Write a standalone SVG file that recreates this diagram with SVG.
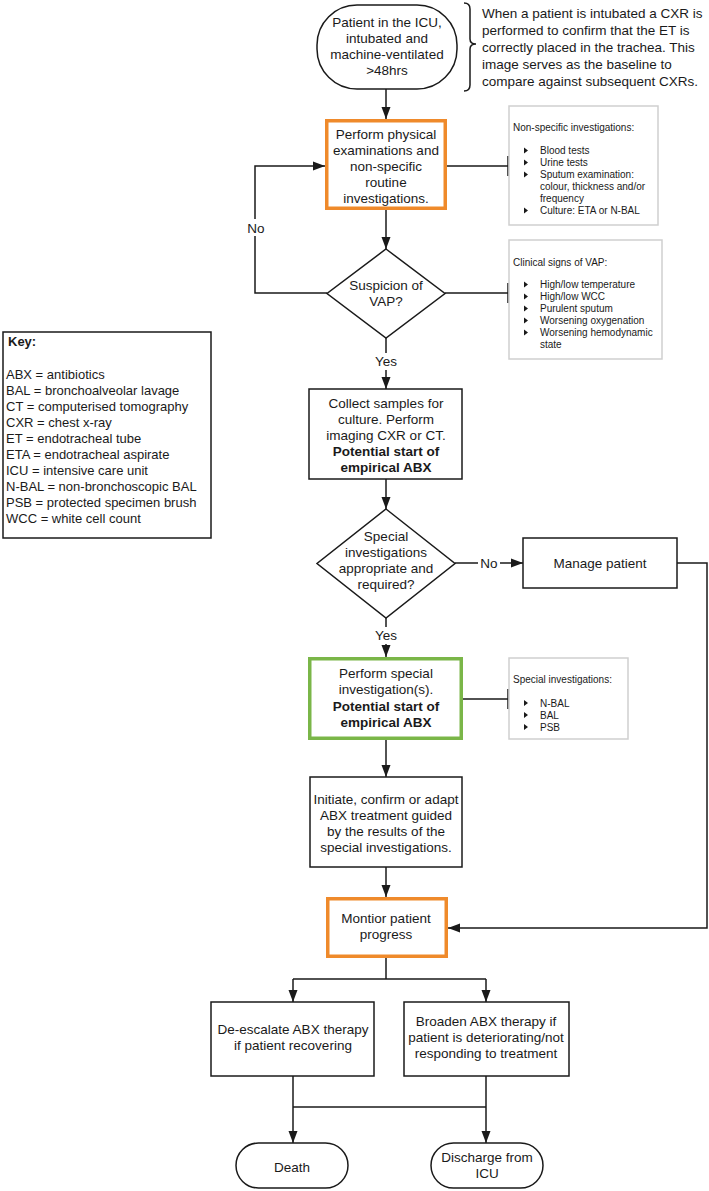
<svg xmlns="http://www.w3.org/2000/svg" width="709" height="1191" viewBox="0 0 709 1191">
<style>
text{font-family:"Liberation Sans",Arial,sans-serif;fill:#1a1a1a}
.m{font-size:13.5px;text-anchor:middle}
.b{font-weight:bold}
.k{font-size:13px}
.n{font-size:13.5px}
.s{font-size:10px}
.box{fill:#fff;stroke:#1a1a1a;stroke-width:1.5}
.or{fill:#fff;stroke:#EF8A2B;stroke-width:3.5}
.gr{fill:#fff;stroke:#7AB648;stroke-width:3.5}
.grey{fill:#fff;stroke:#cfcfcf;stroke-width:1.5}
.c{fill:none;stroke:#1a1a1a;stroke-width:1.5}
.lbl{fill:#fff;stroke:none}
.bul{fill:#1a1a1a}
</style>
<defs>
<marker id="ah" viewBox="0 0 12 10" refX="12" refY="5" markerWidth="12" markerHeight="10" markerUnits="userSpaceOnUse" orient="auto"><path d="M0,0.5 L12,5 L0,9.5 z" fill="#1a1a1a"/></marker>
</defs>
<rect width="709" height="1191" fill="#fff"/>

<g id="connectors">
<path class="c" d="M386,89 V119" marker-end="url(#ah)"/>
<path class="c" d="M386,210 V249" marker-end="url(#ah)"/>
<path class="c" d="M327,293 H255 V166 H325" marker-end="url(#ah)"/>
<path class="c" d="M447,166 H508 M508,156 V176"/>
<path class="c" d="M445,293 H508 M508,283 V303"/>
<path class="c" d="M386,338 V389" marker-end="url(#ah)"/>
<path class="c" d="M386,479 V509" marker-end="url(#ah)"/>
<path class="c" d="M455,563 H523" marker-end="url(#ah)"/>
<path class="c" d="M386,618 V657" marker-end="url(#ah)"/>
<path class="c" d="M463,699 H508 M508,689 V709"/>
<path class="c" d="M386,740 V777" marker-end="url(#ah)"/>
<path class="c" d="M386,867 V897" marker-end="url(#ah)"/>
<path class="c" d="M677,563 H707 V928 H448" marker-end="url(#ah)"/>
<path class="c" d="M386,958 V979 M293,979 H486"/>
<path class="c" d="M293,979 V1002" marker-end="url(#ah)"/>
<path class="c" d="M486,979 V1002" marker-end="url(#ah)"/>
<path class="c" d="M293,1076 V1143" marker-end="url(#ah)"/>
<path class="c" d="M486,1076 V1143" marker-end="url(#ah)"/>
<path class="c" d="M293,1107 H486"/>
<rect class="lbl" x="245" y="219" width="21" height="17"/>
<text class="m" x="256" y="233">No</text>
<rect class="lbl" x="372" y="353" width="28" height="17"/>
<text class="m" x="386" y="366">Yes</text>
<rect class="lbl" x="478" y="555" width="22" height="16"/>
<text class="m" x="489" y="568">No</text>
<rect class="lbl" x="372" y="627" width="28" height="17"/>
<text class="m" x="386" y="640">Yes</text>
</g>

<g id="start">
<rect class="box" x="317" y="5" width="140" height="84" rx="40" ry="40"/>
<text class="m" x="387" y="27">Patient in the ICU,</text>
<text class="m" x="387" y="43">intubated and</text>
<text class="m" x="387" y="59">machine-ventilated</text>
<text class="m" x="387" y="75">&gt;48hrs</text>
</g>

<g id="note">
<path class="c" d="M464,3 Q470,3 470,9 V39 Q470,44 476,44 Q470,44 470,49 V85 Q470,91 464,91"/>
<text class="n" x="482" y="18">When a patient is intubated a CXR is</text>
<text class="n" x="482" y="35">performed to confirm that the ET is</text>
<text class="n" x="482" y="52">correctly placed in the trachea. This</text>
<text class="n" x="482" y="69">image serves as the baseline to</text>
<text class="n" x="482" y="86">compare against subsequent CXRs.</text>
</g>

<g id="physical">
<rect class="or" x="326.75" y="120.75" width="118.5" height="87.5"/>
<text class="m" x="386" y="139">Perform physical</text>
<text class="m" x="386" y="155">examinations and</text>
<text class="m" x="386" y="171">non-specific</text>
<text class="m" x="386" y="187">routine</text>
<text class="m" x="386" y="203">investigations.</text>
</g>

<g id="nonspecific">
<rect class="grey" x="509" y="106" width="149" height="119"/>
<text class="s" x="513" y="130.5">Non-specific investigations:</text>
<path class="bul" d="M524,147.5 L528,150.5 L524,153.5 z M524,159.5 L528,162.5 L524,165.5 z M524,171.5 L528,174.5 L524,177.5 z M524,207.5 L528,210.5 L524,213.5 z"/>
<text class="s" x="540" y="154">Blood tests</text>
<text class="s" x="540" y="166">Urine tests</text>
<text class="s" x="540" y="178">Sputum examination:</text>
<text class="s" x="540" y="190">colour, thickness and/or</text>
<text class="s" x="540" y="202">frequency</text>
<text class="s" x="540" y="214">Culture: ETA or N-BAL</text>
</g>

<g id="suspicion">
<path class="box" d="M386,249 L445,293.5 L386,338 L327,293.5 z"/>
<text class="m" x="386" y="290">Suspicion of</text>
<text class="m" x="386" y="306">VAP?</text>
</g>

<g id="clinical">
<rect class="grey" x="509" y="240" width="153" height="119"/>
<text class="s" x="513" y="265.5">Clinical signs of VAP:</text>
<path class="bul" d="M524,281.5 L528,284.5 L524,287.5 z M524,293.5 L528,296.5 L524,299.5 z M524,305.5 L528,308.5 L524,311.5 z M524,317.5 L528,320.5 L524,323.5 z M524,329.5 L528,332.5 L524,335.5 z"/>
<text class="s" x="540" y="288">High/low temperature</text>
<text class="s" x="540" y="300">High/low WCC</text>
<text class="s" x="540" y="312">Purulent sputum</text>
<text class="s" x="540" y="324">Worsening oxygenation</text>
<text class="s" x="540" y="336">Worsening hemodynamic</text>
<text class="s" x="540" y="348">state</text>
</g>

<g id="key">
<rect class="box" x="3" y="332" width="208" height="206"/>
<text class="k b" x="8" y="346">Key:</text>
<text class="k" x="6" y="379">ABX = antibiotics</text>
<text class="k" x="6" y="395">BAL = bronchoalveolar lavage</text>
<text class="k" x="6" y="411">CT = computerised tomography</text>
<text class="k" x="6" y="427">CXR = chest x-ray</text>
<text class="k" x="6" y="443">ET = endotracheal tube</text>
<text class="k" x="6" y="459">ETA = endotracheal aspirate</text>
<text class="k" x="6" y="475">ICU = intensive care unit</text>
<text class="k" x="6" y="491">N-BAL = non-bronchoscopic BAL</text>
<text class="k" x="6" y="507">PSB = protected specimen brush</text>
<text class="k" x="6" y="523">WCC = white cell count</text>
</g>

<g id="collect">
<rect class="box" x="309" y="389" width="153" height="90"/>
<text class="m" x="386" y="408">Collect samples for</text>
<text class="m" x="386" y="424">culture. Perform</text>
<text class="m" x="386" y="440">imaging CXR or CT.</text>
<text class="m b" x="386" y="456">Potential start of</text>
<text class="m b" x="386" y="472">empirical ABX</text>
</g>

<g id="special-q">
<path class="box" d="M386,509 L455,563.5 L386,618 L317,563.5 z"/>
<text class="m" x="386" y="541">Special</text>
<text class="m" x="386" y="557">investigations</text>
<text class="m" x="386" y="573">appropriate and</text>
<text class="m" x="386" y="589">required?</text>
</g>

<g id="manage">
<rect class="box" x="523" y="538" width="154" height="50"/>
<text class="m" x="600" y="568">Manage patient</text>
</g>

<g id="perform-special">
<rect class="gr" x="309.75" y="658.75" width="151.5" height="79.5"/>
<text class="m" x="386" y="678">Perform special</text>
<text class="m" x="386" y="694">investigation(s).</text>
<text class="m b" x="386" y="711">Potential start of</text>
<text class="m b" x="386" y="727">empirical ABX</text>
</g>

<g id="special-list">
<rect class="grey" x="509" y="658" width="119" height="81"/>
<text class="s" x="513" y="682.5">Special investigations:</text>
<path class="bul" d="M524,700 L528,703 L524,706 z M524,712 L528,715 L524,718 z M524,724 L528,727 L524,730 z"/>
<text class="s" x="540" y="706.5">N-BAL</text>
<text class="s" x="540" y="718.5">BAL</text>
<text class="s" x="540" y="730.5">PSB</text>
</g>

<g id="initiate">
<rect class="box" x="310" y="777" width="152" height="90"/>
<text class="m" x="386" y="804">Initiate, confirm or adapt</text>
<text class="m" x="386" y="820">ABX treatment guided</text>
<text class="m" x="386" y="836">by the results of the</text>
<text class="m" x="386" y="852">special investigations.</text>
</g>

<g id="monitor">
<rect class="or" x="327.75" y="898.75" width="118.5" height="57.5"/>
<text class="m" x="386" y="923">Montior patient</text>
<text class="m" x="386" y="939">progress</text>
</g>

<g id="deescalate">
<rect class="box" x="211" y="1002" width="163" height="74"/>
<text class="m" x="293" y="1034">De-escalate ABX therapy</text>
<text class="m" x="293" y="1050">if patient recovering</text>
</g>

<g id="broaden">
<rect class="box" x="404" y="1002" width="165" height="74"/>
<text class="m" x="486" y="1026">Broaden ABX therapy if</text>
<text class="m" x="486" y="1042">patient is deteriorating/not</text>
<text class="m" x="486" y="1058">responding to treatment</text>
</g>

<g id="death">
<rect class="box" x="236" y="1143" width="112" height="45" rx="22.5" ry="22.5"/>
<text class="m" x="292" y="1172">Death</text>
</g>

<g id="discharge">
<rect class="box" x="431" y="1143" width="112" height="45" rx="22.5" ry="22.5"/>
<text class="m" x="487" y="1162">Discharge from</text>
<text class="m" x="487" y="1178">ICU</text>
</g>
</svg>
